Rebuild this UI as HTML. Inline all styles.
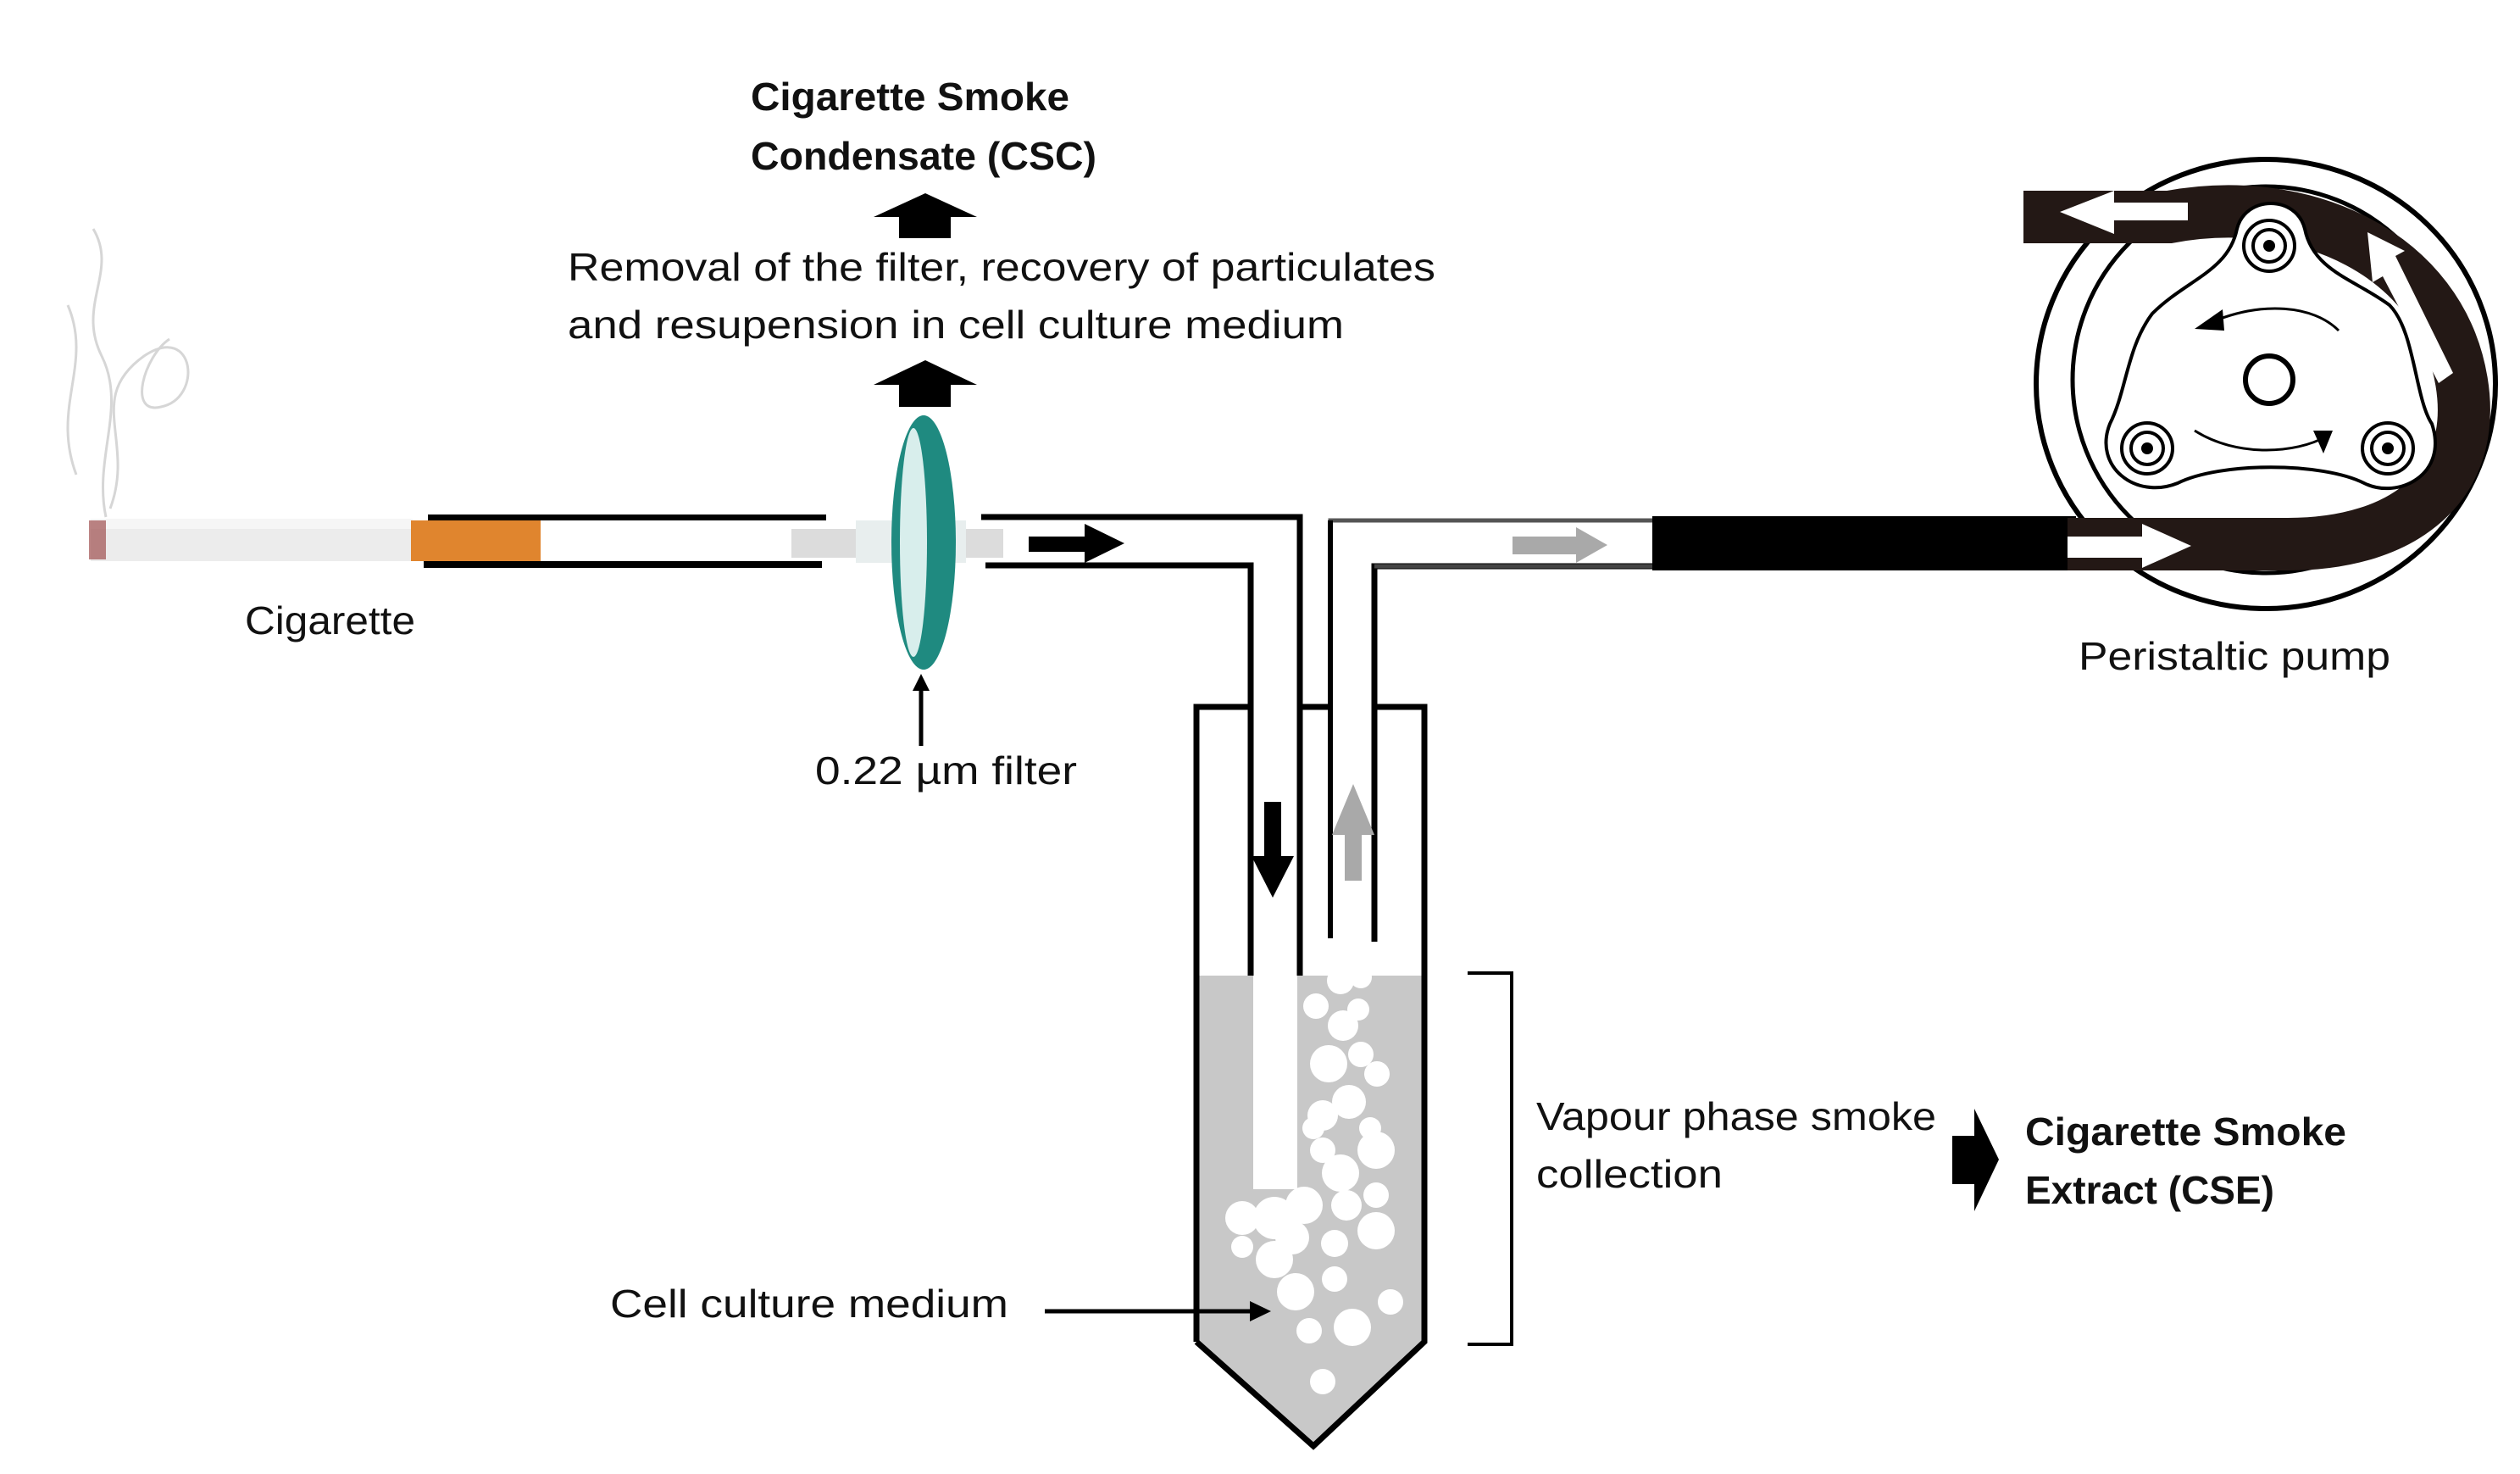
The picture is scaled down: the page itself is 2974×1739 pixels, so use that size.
<!DOCTYPE html>
<html><head><meta charset="utf-8"><style>
html,body{margin:0;padding:0;background:#fff;}
svg{display:block;}
text{font-family:"Liberation Sans",sans-serif;font-size:46px;fill:#111;}
.b{font-weight:bold;}
</style></head><body>
<svg width="2974" height="1739" viewBox="0 0 2974 1739" xmlns="http://www.w3.org/2000/svg">
<!-- smoke -->
<g fill="none" stroke="#ccc" stroke-width="3" opacity="0.8">
<path d="M125,610 C110,540 150,480 120,420 C90,360 140,320 110,270"/>
<path d="M130,600 C160,520 100,470 170,420 C230,380 240,470 190,480 C150,490 170,420 200,400"/>
<path d="M90,560 C60,480 110,430 80,360"/>
</g>
<!-- cigarette -->
<rect x="107" y="612" width="380" height="50" fill="#ececec"/>
<rect x="107" y="612" width="380" height="12" fill="#f6f6f6"/>
<rect x="105" y="614" width="20" height="46" fill="#a05050" opacity="0.7"/>
<rect x="485" y="614" width="153" height="48" fill="#e0852e"/>
<!-- left tube -->
<rect x="505" y="607" width="470" height="7" fill="#000"/>
<rect x="500" y="662" width="470" height="8" fill="#000"/>
<!-- connector -->
<rect x="934" y="624" width="250" height="34" fill="#dcdcdc"/>
<rect x="1010" y="614" width="130" height="50" fill="#e8eeee"/>
<!-- filter -->
<ellipse cx="1090" cy="640" rx="38" ry="150" fill="#1f8a80"/>
<ellipse cx="1078" cy="640" rx="16" ry="135" fill="#d8eeec"/>
<!-- right tube -->
<path d="M1158,610 H1534 V1403" fill="none" stroke="#000" stroke-width="7"/>
<path d="M1163,667 H1476 V1403" fill="none" stroke="#000" stroke-width="7"/>
<polygon points="1214,633 1280,633 1280,618 1327,641 1280,664 1280,651 1214,651" fill="#000"/>
<line x1="1087" y1="880" x2="1087" y2="810" stroke="#000" stroke-width="5"/>
<polygon points="1077,815 1087,795 1097,815" fill="#000"/>
<polygon points="1061,480 1122,480 1122,454 1153,454 1092,425 1031,454 1061,454" fill="#000"/>
<polygon points="1061,281 1122,281 1122,256 1153,256 1092,228 1031,256 1061,256" fill="#000"/>
<!-- vessel liquid -->
<path d="M1412,1151 H1681 V1583 L1550,1706 L1412,1583 Z" fill="#c8c8c8"/>
<rect x="1479" y="1151" width="52" height="252" fill="#fff"/>
<g fill="#fff">
<circle cx="1582" cy="1157" r="16"/><circle cx="1606" cy="1153" r="13"/><circle cx="1553" cy="1187" r="15"/>
<circle cx="1603" cy="1191" r="13"/><circle cx="1585" cy="1210" r="18"/><circle cx="1568" cy="1255" r="22"/>
<circle cx="1606" cy="1244" r="15"/><circle cx="1625" cy="1267" r="15"/><circle cx="1592" cy="1300" r="20"/>
<circle cx="1561" cy="1316" r="18"/><circle cx="1550" cy="1331" r="13"/><circle cx="1617" cy="1331" r="13"/>
<circle cx="1624" cy="1357" r="22"/><circle cx="1561" cy="1357" r="15"/><circle cx="1582" cy="1384" r="22"/>
<circle cx="1624" cy="1410" r="15"/><circle cx="1466" cy="1437" r="20"/><circle cx="1504" cy="1437" r="25"/>
<circle cx="1539" cy="1422" r="22"/><circle cx="1525" cy="1460" r="20"/><circle cx="1589" cy="1422" r="18"/>
<circle cx="1624" cy="1452" r="22"/><circle cx="1466" cy="1471" r="13"/><circle cx="1504" cy="1486" r="22"/>
<circle cx="1575" cy="1467" r="16"/><circle cx="1529" cy="1524" r="22"/><circle cx="1575" cy="1509" r="15"/>
<circle cx="1641" cy="1536" r="15"/><circle cx="1596" cy="1566" r="22"/><circle cx="1545" cy="1570" r="15"/>
<circle cx="1561" cy="1630" r="15"/>
</g>
<path d="M1412,1583 V834 H1476 M1534,834 H1570 M1622,834 H1681 V1583 L1550,1706 L1412,1583" fill="none" stroke="#000" stroke-width="7"/>
<path d="M1570,1107 V614 H1950" fill="none" stroke="#555" stroke-width="5"/>
<path d="M1570,1107 V614" fill="none" stroke="#000" stroke-width="6"/>
<path d="M1622,1111 V668 H1950" fill="none" stroke="#000" stroke-width="7"/>
<path d="M1622,668 H1950" fill="none" stroke="#444" stroke-width="5"/>
<polygon points="1785,633 1860,633 1860,622 1897,643 1860,664 1860,654 1785,654" fill="#a9a9a9"/>
<polygon points="1587,1039 1607,1039 1607,985 1622,985 1597,925 1572,985 1587,985" fill="#a9a9a9"/>
<polygon points="1492,946 1512,946 1512,1010 1527,1010 1502,1059 1477,1010 1492,1010" fill="#000"/>
<path d="M1732,1148 H1784 V1586 H1732" fill="none" stroke="#000" stroke-width="4"/>
<line x1="1233" y1="1547" x2="1480" y2="1547" stroke="#000" stroke-width="5"/>
<polygon points="1475,1535 1500,1547 1475,1559" fill="#000"/>
<rect x="1950" y="609" width="500" height="64" fill="#000"/>
<!-- pump -->
<ellipse cx="2674" cy="453" rx="271" ry="265" fill="none" stroke="#000" stroke-width="6"/>
<circle cx="2674" cy="448" r="228" fill="none" stroke="#000" stroke-width="5"/>
<path d="M2388,256 L2560,256 C2720,226 2880,300 2905,450 C2925,570 2840,642 2700,642 L2440,642" fill="none" stroke="#231815" stroke-width="62"/>
<rect x="2388" y="225" width="40" height="62" fill="#231815"/>
<path d="M2640,270 C2650,230 2710,230 2720,270 C2730,320 2780,330 2820,360 C2850,390 2850,470 2870,500 C2890,560 2830,590 2790,570 C2740,545 2620,545 2570,570 C2520,590 2470,550 2490,500 C2510,460 2510,410 2540,370 C2580,330 2630,320 2640,270 Z" fill="#fff" stroke="#000" stroke-width="4"/>
<g fill="#fff" stroke="#000" stroke-width="4">
<circle cx="2678" cy="290" r="30"/><circle cx="2678" cy="290" r="19"/>
<circle cx="2534" cy="529" r="30"/><circle cx="2534" cy="529" r="19"/>
<circle cx="2818" cy="529" r="30"/><circle cx="2818" cy="529" r="19"/>
<circle cx="2678" cy="448" r="28" stroke-width="6"/>
</g>
<g fill="#000"><circle cx="2678" cy="290" r="7"/><circle cx="2534" cy="529" r="7"/><circle cx="2818" cy="529" r="7"/></g>
<path d="M2760,390 C2730,360 2670,355 2610,380" fill="none" stroke="#000" stroke-width="3"/>
<polygon points="2590,388 2623,365 2625,390" fill="#000"/>
<path d="M2590,508 C2640,540 2710,535 2745,515" fill="none" stroke="#000" stroke-width="3"/>
<polygon points="2730,508 2753,508 2742,535" fill="#000"/>
<polygon points="2582,239 2495,239 2495,225 2431,250 2495,276 2495,260 2582,260" fill="#fff"/>
<polygon points="2440,633 2528,633 2528,618 2586,644 2528,670 2528,658 2440,658" fill="#fff"/>
<polygon points="2895,440 2878,452 2812,326 2800,333 2794,274 2838,296 2827,302" fill="#fff"/>
<polygon points="2304,1340 2330,1340 2330,1308 2359,1368 2330,1429 2330,1397 2304,1397" fill="#000"/>
<!-- text -->
<text class="b" x="886" y="130" textLength="376" lengthAdjust="spacingAndGlyphs">Cigarette Smoke</text>
<text class="b" x="886" y="200" textLength="408" lengthAdjust="spacingAndGlyphs">Condensate (CSC)</text>
<text x="670" y="331" textLength="1024" lengthAdjust="spacingAndGlyphs">Removal of the filter, recovery of particulates</text>
<text x="670" y="399" textLength="916" lengthAdjust="spacingAndGlyphs">and resupension in cell culture  medium</text>
<text x="289" y="748" textLength="201" lengthAdjust="spacingAndGlyphs">Cigarette</text>
<text x="962" y="925" textLength="309" lengthAdjust="spacingAndGlyphs">0.22 µm filter</text>
<text x="2453" y="790" textLength="368" lengthAdjust="spacingAndGlyphs">Peristaltic pump</text>
<text x="1813" y="1333" textLength="472" lengthAdjust="spacingAndGlyphs">Vapour phase smoke</text>
<text x="1813" y="1401" textLength="220" lengthAdjust="spacingAndGlyphs">collection</text>
<text class="b" x="2390" y="1351" textLength="379" lengthAdjust="spacingAndGlyphs">Cigarette Smoke</text>
<text class="b" x="2390" y="1420" textLength="294" lengthAdjust="spacingAndGlyphs">Extract (CSE)</text>
<text x="720" y="1554" textLength="470" lengthAdjust="spacingAndGlyphs">Cell culture  medium</text>
</svg>
</body></html>
